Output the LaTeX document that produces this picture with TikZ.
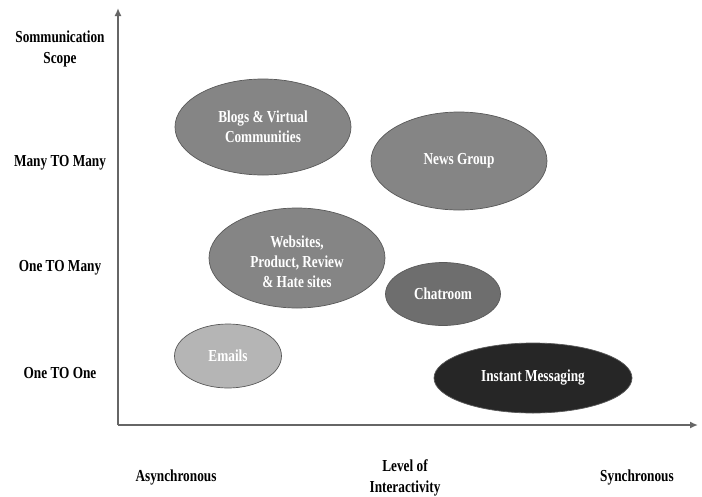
\documentclass[tikz,border=0pt]{standalone}
\usepackage{fontspec}
\setmainfont{Liberation Serif}[FakeStretch=0.79]
\usetikzlibrary{shapes.geometric,arrows.meta}
\definecolor{midgray}{HTML}{858585}
\definecolor{chatgray}{HTML}{6E6E6E}
\definecolor{lightgray}{HTML}{B5B5B5}
\definecolor{darkfill}{HTML}{262626}
\definecolor{axisgray}{HTML}{666666}
\tikzset{
  bubble/.style={ellipse, draw=black!65, line width=0.7pt, inner sep=0pt,
    font=\bfseries\fontsize{16.8}{20}\selectfont, text=white, align=center},
  lab/.style={font=\bfseries\fontsize{16.8}{21}\selectfont, align=center, inner sep=0pt},
  axis/.style={draw=axisgray, line width=1.8pt, -{Latex[length=8pt,width=7pt]}}
}
\begin{document}
\begin{tikzpicture}[x=1pt,y=-1pt]
\useasboundingbox (0,0) rectangle (702,496);
\fill[white] (0,0) rectangle (702,496);
% axes
\coordinate (o) at (118,425);
\coordinate (yt) at (118,8);
\coordinate (xt) at (698,425);
\draw[axis] (o) -- (yt);
\draw[axis] (o) -- (xt);
% y labels
\node[lab] (scope) at (60,49) {Sommunication\\Scope};
\node[lab] (m2m) at (60,163) {Many TO Many};
\node[lab] (o2m) at (60,268) {One TO Many};
\node[lab] (o2o) at (60,373) {One TO One};
% x labels
\node[lab] (async) at (176,477) {Asynchronous};
\node[lab] (level) at (405,478) {Level of\\Interactivity};
\node[lab] (sync) at (637,477) {Synchronous};
% bubbles
\node[bubble, fill=midgray, minimum width=176pt, minimum height=96pt] (blogs) at (263,127) {Blogs \& Virtual\\Communities};
\node[bubble, fill=midgray, minimum width=176pt, minimum height=98pt] (news) at (459,161) {News Group};
\node[bubble, fill=midgray, minimum width=176pt, minimum height=100pt,
  label={[bubble, draw=none, yshift=-4pt]center:Websites,\\Product, Review\\\& Hate sites}] (web) at (297,258) {};
\node[bubble, fill=chatgray, minimum width=115pt, minimum height=63pt] (chat) at (443,294) {Chatroom};
\node[bubble, fill=lightgray, minimum width=107pt, minimum height=64pt] (email) at (228,356) {Emails};
\node[bubble, fill=darkfill, minimum width=198pt, minimum height=70pt] (im) at (533,378) {Instant Messaging};
\end{tikzpicture}
\end{document}
